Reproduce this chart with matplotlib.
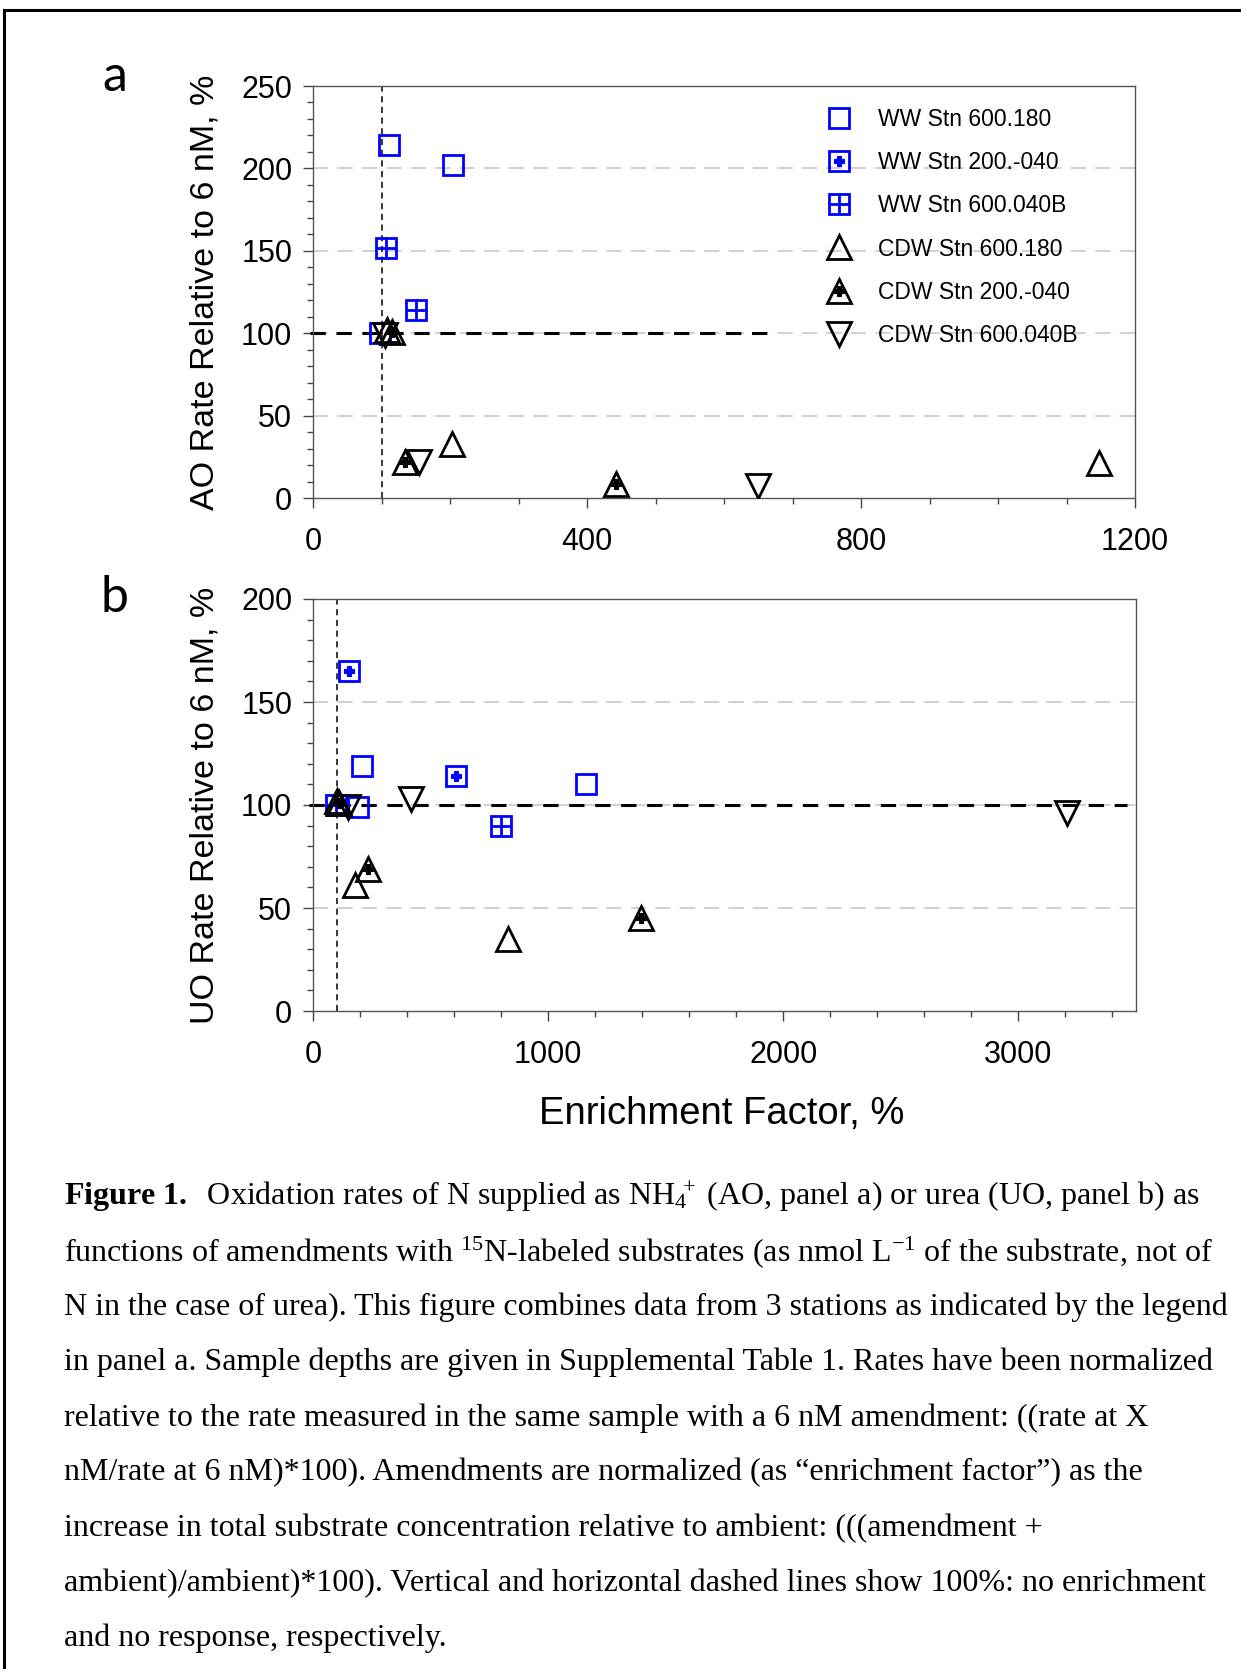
import matplotlib
matplotlib.use("Agg")
import matplotlib.pyplot as plt
from matplotlib.ticker import MultipleLocator
from matplotlib.lines import Line2D
from matplotlib.legend_handler import HandlerTuple

plt.rcParams['font.family'] = ['Liberation Sans', 'DejaVu Sans']
plt.rcParams['mathtext.fontset'] = 'custom'
plt.rcParams['mathtext.rm'] = 'Liberation Serif'
plt.rcParams['mathtext.it'] = 'Liberation Serif:italic'
plt.rcParams['mathtext.bf'] = 'Liberation Serif:bold'

# Panel a: AO rate vs enrichment factor
a_ww600_180_x = [98, 111, 204]
a_ww600_180_y = [100, 214, 202]
a_ww200_040_x = []
a_ww200_040_y = []
a_ww600_040b_x = [106, 150]
a_ww600_040b_y = [152, 114]
a_cdw600_180_x = [108, 203, 1147]
a_cdw600_180_y = [102, 33, 21]
a_cdw200_040_x = [115, 134, 442]
a_cdw200_040_y = [101, 22, 8.5]
a_cdw600_040b_x = [105, 155, 650]
a_cdw600_040b_y = [99, 22, 7]

# Panel b: UO rate vs enrichment factor
b_ww600_180_x = [190, 210, 1160]
b_ww600_180_y = [99, 119, 110]
b_ww200_040_x = [155, 607]
b_ww200_040_y = [165, 114]
b_ww600_040b_x = [96, 800]
b_ww600_040b_y = [100, 90]
b_cdw600_180_x = [100, 177, 831]
b_cdw600_180_y = [102, 61, 35]
b_cdw200_040_x = [110, 234, 1396]
b_cdw200_040_y = [101, 69, 45]
b_cdw600_040b_x = [150, 415, 3206]
b_cdw600_040b_y = [99, 103, 96]

labels = ["WW Stn 600.180", "WW Stn 200.-040", "WW Stn 600.040B",
          "CDW Stn 600.180", "CDW Stn 200.-040", "CDW Stn 600.040B"]

blue = "#0000ff"
# marker layers: (marker, size, edge colour, face colour)
styles = [
    [("s", 14.5, blue, "none")],
    [("s", 14.5, blue, "none"), ("P", 7.5, blue, blue)],
    [("s", 14.5, blue, "none"), ("+", 14.5, blue, "none")],
    [("^", 17.5, "black", "none")],
    [("^", 17.5, "black", "none"), ("P", 7, "black", "black")],
    [("v", 17.5, "black", "none")],
]

ref_x = 100
ref_y = 100

W, H = 1241, 1669
fig = plt.figure(figsize=(W / 100, H / 100), dpi=100)


def px_axes(left, top, right, bottom):
    return fig.add_axes([left / W, 1 - bottom / H, (right - left) / W, (bottom - top) / H])


def style_axes(ax, xmax, xmaj, xmin, ymax, ymaj, ymin, ylabel):
    ax.set_xlim(0, xmax)
    ax.set_ylim(0, ymax)
    ax.xaxis.set_major_locator(MultipleLocator(xmaj))
    ax.xaxis.set_minor_locator(MultipleLocator(xmin))
    ax.yaxis.set_major_locator(MultipleLocator(ymaj))
    ax.yaxis.set_minor_locator(MultipleLocator(ymin))
    for s in ax.spines.values():
        s.set_color("#555555")
        s.set_linewidth(1.0)
    ax.tick_params(which="both", direction="out", top=False, right=False,
                   color="#444444", width=1.0, labelsize=22)
    ax.tick_params(which="major", length=7)
    ax.tick_params(axis="x", which="major", pad=14)
    ax.tick_params(axis="y", which="major", pad=8)
    ax.tick_params(which="minor", length=4)
    for yv in ax.get_yticks():
        if 0 < yv < ymax:
            ax.axhline(yv, color="#c4c4c4", lw=1.1, dashes=(10, 6), zorder=0)
    ax.set_ylabel(ylabel, fontsize=24.5)
    ax.yaxis.set_label_coords(-0.113, 0.5)


def draw_series(ax, xs, ys):
    for k, (x, y) in enumerate(zip(xs, ys)):
        for m, ms, ec, fc in styles[k]:
            ax.plot(x, y, ls="none", marker=m, ms=ms, mec=ec, mfc=fc,
                    mew=2.0 if ms > 9 else 0.8, zorder=3 + k * 0.1)


# ---- panel a ----
ax1 = px_axes(313, 86, 1135, 498)
style_axes(ax1, 1200, 400, 100, 250, 50, 10, "AO Rate Relative to 6 nM, %")
ax1.axvline(ref_x, color="black", lw=1.1, dashes=(4, 3), zorder=2)
ax1.plot([-5, 675], [ref_y, ref_y], color="black", lw=2.2, dashes=(5, 3.5),
         clip_on=False, zorder=2)
draw_series(ax1,
            [a_ww600_180_x, a_ww200_040_x, a_ww600_040b_x,
             a_cdw600_180_x, a_cdw200_040_x, a_cdw600_040b_x],
            [a_ww600_180_y, a_ww200_040_y, a_ww600_040b_y,
             a_cdw600_180_y, a_cdw200_040_y, a_cdw600_040b_y])

handles = []
for st in styles:
    handles.append(tuple(Line2D([], [], ls="none", marker=m, ms=ms, mec=ec, mfc=fc,
                                mew=2.0 if ms > 9 else 0.8) for m, ms, ec, fc in st))
leg = ax1.legend(handles, labels, loc="upper left",
                 bbox_to_anchor=(828 / W, 1 - 108 / H), bbox_transform=fig.transFigure,
                 frameon=False, fontsize=16.5, handlelength=1.0, handletextpad=1.16,
                 labelspacing=0.88, borderpad=0, borderaxespad=0,
                 handler_map={tuple: HandlerTuple(ndivide=1)})

# ---- panel b ----
ax2 = px_axes(313, 599, 1136, 1011)
style_axes(ax2, 3500, 1000, 200, 200, 50, 10, "UO Rate Relative to 6 nM, %")
ax2.axvline(ref_x, color="black", lw=1.1, dashes=(4, 3), zorder=2)
ax2.plot([-15, 3460], [ref_y, ref_y], color="black", lw=2.2, dashes=(5, 3.5),
         clip_on=False, zorder=2)
draw_series(ax2,
            [b_ww600_180_x, b_ww200_040_x, b_ww600_040b_x,
             b_cdw600_180_x, b_cdw200_040_x, b_cdw600_040b_x],
            [b_ww600_180_y, b_ww200_040_y, b_ww600_040b_y,
             b_cdw600_180_y, b_cdw200_040_y, b_cdw600_040b_y])

fig.text(722 / W, 1 - 1124 / H, "Enrichment Factor, %", fontsize=27.5,
         ha="center", va="baseline")

# panel letters
fig.text(115 / W, 1 - 77 / H, "a", fontsize=36, family="Lato", ha="center", va="center")
fig.text(115 / W, 1 - 598 / H, "b", fontsize=36, family="Lato", ha="center", va="center")

# caption
caption = [
    r"$\mathbf{Figure\ 1.}$  Oxidation rates of N supplied as NH$_4$$^{\!\!\!+}$ (AO, panel a) or urea (UO, panel b) as",
    r"functions of amendments with $^{15}$N-labeled substrates (as nmol L$^{-1}$ of the substrate, not of",
    "N in the case of urea). This figure combines data from 3 stations as indicated by the legend",
    "in panel a. Sample depths are given in Supplemental Table 1. Rates have been normalized",
    "relative to the rate measured in the same sample with a 6 nM amendment: ((rate at X",
    "nM/rate at 6 nM)*100). Amendments are normalized (as \u201cenrichment factor\u201d) as the",
    "increase in total substrate concentration relative to ambient: (((amendment +",
    "ambient)/ambient)*100). Vertical and horizontal dashed lines show 100%: no enrichment",
    "and no response, respectively.",
]
for i, line in enumerate(caption):
    fig.text(64 / W, 1 - (1197 + 55.2 * i) / H, line, fontsize=23,
             family="Liberation Serif", ha="left", va="center")

# outer frame (top and left edges visible)
fig.add_artist(Line2D([4 / W, 1], [1 - 10 / H, 1 - 10 / H], transform=fig.transFigure,
                      color="black", lw=2.2))
fig.add_artist(Line2D([4 / W, 4 / W], [0, 1 - 10 / H], transform=fig.transFigure,
                      color="black", lw=2.2))

fig.savefig("out.png", dpi=100)
